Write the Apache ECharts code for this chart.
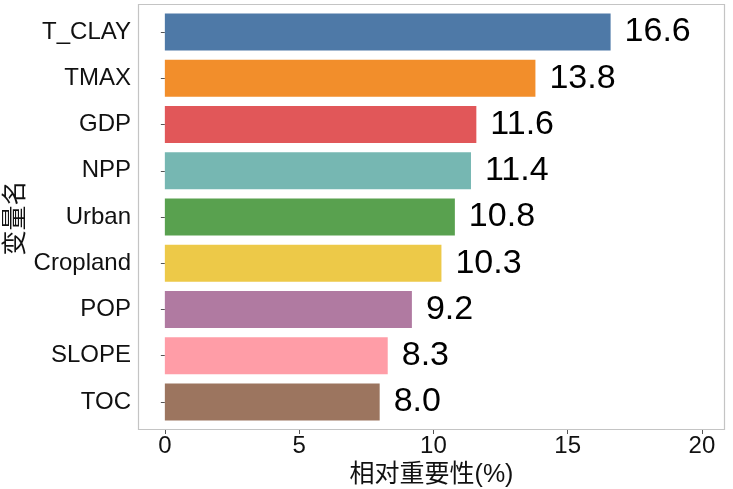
<!DOCTYPE html>
<html>
<head>
<meta charset="utf-8">
<script src="https://cdn.jsdelivr.net/npm/echarts@6/dist/echarts.min.js"></script>
<style>html,body{margin:0;padding:0;background:#fff;}#c{width:733px;height:489px;}</style>
</head>
<body>
<div id="c"></div>
<script>
const categories = ['T_CLAY','TMAX','GDP','NPP','Urban','Cropland','POP','SLOPE','TOC'];
const values = [16.6, 13.8, 11.6, 11.4, 10.8, 10.3, 9.2, 8.3, 8.0];
const barColors = ['#4E79A7','#F28E2B','#E15759','#76B7B2','#59A14F','#EDC948','#B07AA1','#FF9DA7','#9C755F'];
const xTicks = [0, 5, 10, 15, 20];
const xTitle = '相对重要性(%)';
const yTitle = '变量名';

const font = '"Liberation Sans", Arial, "Noto Sans CJK SC", sans-serif';
const chart = echarts.init(document.getElementById('c'));
chart.setOption({
  animation: false,
  backgroundColor: '#fff',
  grid: { left: 138, right: 8, top: 9, bottom: 64, containLabel: false, outerBoundsMode: 'none' },
  graphic: [{
    type: 'rect', shape: { x: 138.5, y: 4.5, width: 586, height: 425 },
    style: { fill: 'none', stroke: '#c4c4c4', lineWidth: 1.2 }, z: 10
  }, {
    type: 'text', x: 16, y: 218, rotation: Math.PI / 2,
    style: { text: yTitle, font: '25px ' + font, fill: '#111', align: 'center', verticalAlign: 'middle' }
  }],
  xAxis: {
    type: 'value', min: -1.0, max: 20.86, offset: 5,
    axisLine: { show: false },
    splitLine: { show: false },
    axisTick: { show: true, length: 4, customValues: xTicks, lineStyle: { color: '#555' } },
    axisLabel: { customValues: xTicks, fontSize: 24, color: '#111', fontFamily: font, margin: 4 },
    name: xTitle, nameLocation: 'middle', nameGap: 31,
    nameTextStyle: { fontSize: 25, color: '#111', fontFamily: font }
  },
  yAxis: {
    type: 'category', data: categories, inverse: true,
    axisLine: { show: false },
    axisTick: { show: true, length: 4, alignWithLabel: true, lineStyle: { color: '#555' } },
    axisLabel: { fontSize: 24, color: '#111', fontFamily: font, margin: 7 }
  },
  series: [{
    type: 'bar', barWidth: 37,
    data: values.map((v, i) => ({ value: v, itemStyle: { color: barColors[i] } })),
    label: {
      show: true, position: 'right', distance: 14,
      formatter: p => p.value.toFixed(1),
      fontSize: 34, color: '#000', fontFamily: font
    }
  }]
});
</script>
</body>
</html>
